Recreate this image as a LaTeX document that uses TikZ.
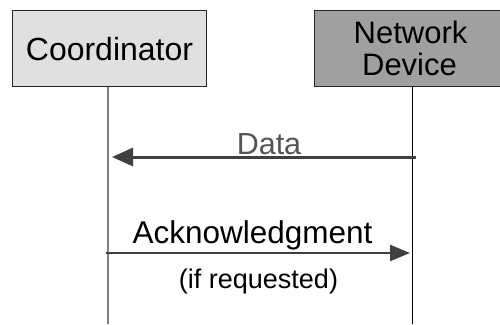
\documentclass[tikz,border=0pt]{standalone}
\usepackage{fontspec}
\setmainfont{Liberation Sans}
\usetikzlibrary{arrows.meta}
\definecolor{boxlight}{HTML}{E0E0E0}
\definecolor{boxdark}{HTML}{A0A0A0}
\definecolor{arrowgray}{HTML}{404040}
\definecolor{datagray}{HTML}{555555}
\begin{document}
\begin{tikzpicture}[x=1pt,y=-1pt,
  actor/.style={draw=black!85,line width=1pt,inner sep=0pt,anchor=north west},
  lbl/.style={inner sep=0pt,anchor=base},
  msg/.style={draw=arrowgray,line width=3pt},
]
\useasboundingbox (0,0) rectangle (500,324);
% boxes
\node[actor,fill=boxlight,minimum width=194pt,minimum height=76pt] (coord) at (12,10) {};
\node[actor,fill=boxdark,minimum width=190pt,minimum height=76pt] (net) at (314,10) {};
\node[lbl,font=\fontsize{32}{38}\selectfont] (coordtxt) at (109.5,60) {Coordinator};
\node[lbl,font=\fontsize{31}{32}\selectfont] (nettxt1) at (410.5,43) {Network};
\node[lbl,font=\fontsize{31}{32}\selectfont] (nettxt2) at (409.5,75) {Device};
% lifelines
\coordinate (cTop) at (108,86.5);
\coordinate (cBot) at (108,324);
\coordinate (nTop) at (412,86.5);
\coordinate (nBot) at (412,324);
\draw[draw=black!50,line width=1.6pt] (cTop) -- (cBot);
\draw[draw=black,line width=1pt] (nTop) -- (nBot);
% messages
\coordinate (dStart) at (416,157);
\coordinate (dEnd) at (112,157);
\draw[msg,-{Triangle[length=21pt,width=18pt]}] (dStart) -- (dEnd);
\node[lbl,text=datagray,font=\fontsize{30.5}{36}\selectfont] (datatxt) at (269,154) {Data};
\coordinate (aStart) at (106,253);
\coordinate (aEnd) at (410,253);
\draw[msg,line width=2.5pt,-{Triangle[length=20pt,width=16pt]}] (aStart) -- (aEnd);
\node[lbl,font=\fontsize{31.5}{36}\selectfont] (acktxt) at (252.5,243) {Acknowledgment};
\node[lbl,font=\fontsize{27}{30}\selectfont] (reqtxt) at (258.5,288) {(if requested)};
\end{tikzpicture}
\end{document}
